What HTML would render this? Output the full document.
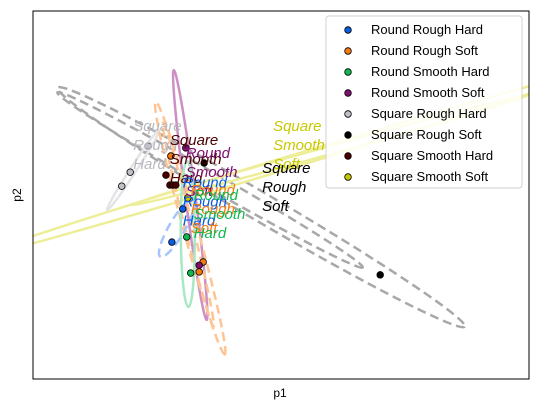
<!DOCTYPE html>
<html><head><meta charset="utf-8"><style>
body{margin:0;background:#fff;overflow:hidden}
svg{display:block;font-family:"Liberation Sans","DejaVu Sans",sans-serif}
</style></head><body>
<svg id="chart" width="538" height="412" viewBox="0 0 538 412">
<defs><clipPath id="clip"><rect x="33" y="11" width="496" height="368"/></clipPath></defs>
<rect x="0" y="0" width="538" height="412" fill="#fff"/>
<g clip-path="url(#clip)">
<g id="ellipses"></g>
<g id="points"></g>
<g id="labels"></g>
</g>
<rect x="33" y="11" width="496" height="368" fill="none" stroke="#000" stroke-width="1"/>
<text x="280" y="397" font-size="12" text-anchor="middle">p1</text>
<text x="21" y="195" font-size="12" text-anchor="middle" transform="rotate(-90 21 195)">p2</text>
<g id="legend"></g>
</svg>
<script>
// Data in axis units (x: 0..100, y: 0..100)
const groups = ["Round Rough Hard","Round Rough Soft","Round Smooth Hard","Round Smooth Soft","Square Rough Hard","Square Rough Soft","Square Smooth Hard","Square Smooth Soft"];
const colors = ["#0a5ce0","#f57a10","#10b850","#801070","#c0c0c8","#000000","#4a0000","#c8c800"];
const pointGroup = [0,0,1,1,1,2,2,3,3,4,4,4,5,5,6,6,6,6,7];
const pointX = [28.0,30.2,27.8,34.3,33.5,31.0,31.8,30.8,33.5,17.9,19.6,23.2,34.5,70.0,26.8,27.6,28.2,28.8,31.2];
const pointY = [37.2,46.2,60.6,31.8,29.1,38.6,28.8,62.8,30.9,52.4,56.2,63.3,58.7,28.3,55.4,52.7,52.7,52.7,49.2];
// ellipses: group, center x/y (axis units), half-length and half-width (px), angle (deg, screen)
const ellGroup = [5,5,7,7,4,3,1,1,2,0];
const ellCX = [46.0,35.7,50.0,59.9,20.2,31.7,31.7,31.3,31.2,29.0];
const ellCY = [46.7,54.1,58.2,62.2,56.8,50.0,41.0,42.0,39.4,41.0];
const ellHalf = [236,176,320,207,48,126,131,105,73,33];
const ellMinor = [14,8,6,4,3,5,7,4,7,8];
const ellAngle = [30.4,29.8,-16.8,-15.5,-57,82.5,74.7,76,89.5,-60];
const ellDash = [1,1,0,0,0,0,1,1,0,1];
const ellColor = ["#a8a8a8","#a8a8a8","#eeee99","#eeee99","#e4e4e8","#cc90c4","#ffc494","#ffc494","#a8e8c4","#a8c4ff"];
const labelGroup = [4,6,3,7,5,0,1,2];
const labelX = [20.2,27.6,30.8,48.4,46.2,30.2,31.8,32.4];
const labelY = [67.4,63.6,60.0,67.4,56.0,52.0,50.0,48.7];
const legendY = [29,50,71,92,113,134,155,176];

const X0=33,X1=529,Y0=379,Y1=11;
const sx=v=>X0+(X1-X0)*v/100;
const sy=v=>Y0-(Y0-Y1)*v/100;
const NS="http://www.w3.org/2000/svg";
const mk=(t,a)=>{const e=document.createElementNS(NS,t);for(const k in a)e.setAttribute(k,a[k]);return e;};

const eg=document.getElementById('ellipses');
for(let i=0;i<ellCX.length;i++){
  const cx=sx(ellCX[i]),cy=sy(ellCY[i]);
  const e=mk('ellipse',{cx:cx,cy:cy,rx:ellHalf[i],ry:ellMinor[i],fill:'none',stroke:ellColor[i],'stroke-width':2.5,transform:`rotate(${ellAngle[i]} ${cx} ${cy})`});
  if(ellDash[i])e.setAttribute('stroke-dasharray','9 5');
  
  
  eg.appendChild(e);
}
const pg=document.getElementById('points');
for(let i=0;i<pointX.length;i++){
  const c=mk('circle',{cx:sx(pointX[i]),cy:sy(pointY[i]),r:3.3,fill:colors[pointGroup[i]],stroke:'#000','stroke-width':0.8});
  
  
  pg.appendChild(c);
}
const lg=document.getElementById('labels');
for(let i=0;i<labelX.length;i++){
  const g=groups[labelGroup[i]].split(' ');
  const t=mk('text',{x:sx(labelX[i]),y:sy(labelY[i]),'font-size':15,'font-style':'italic',fill:colors[labelGroup[i]]});
  if(labelGroup[i]==4)t.setAttribute('fill','#b8b8c0');
  g.forEach((w,j)=>{const s=mk('tspan',{x:sx(labelX[i]),dy:j?19:0});s.textContent=w;t.appendChild(s);});
  
  
  lg.appendChild(t);
}
const leg=document.getElementById('legend');
const box=mk('rect',{x:326,y:16,width:196,height:172,rx:3,fill:'#fff','fill-opacity':0.85,stroke:'#d0d0d0'});


leg.appendChild(box);
for(let i=0;i<groups.length;i++){
  const c=mk('circle',{cx:348,cy:legendY[i]+1,r:3.3,fill:colors[i],stroke:'#000','stroke-width':0.8});
  
  
  leg.appendChild(c);
  const t=mk('text',{x:371,y:legendY[i]+5,'font-size':13,fill:'#000'});
  t.textContent=groups[i];
  
  
  leg.appendChild(t);
}
</script>
</body></html>
